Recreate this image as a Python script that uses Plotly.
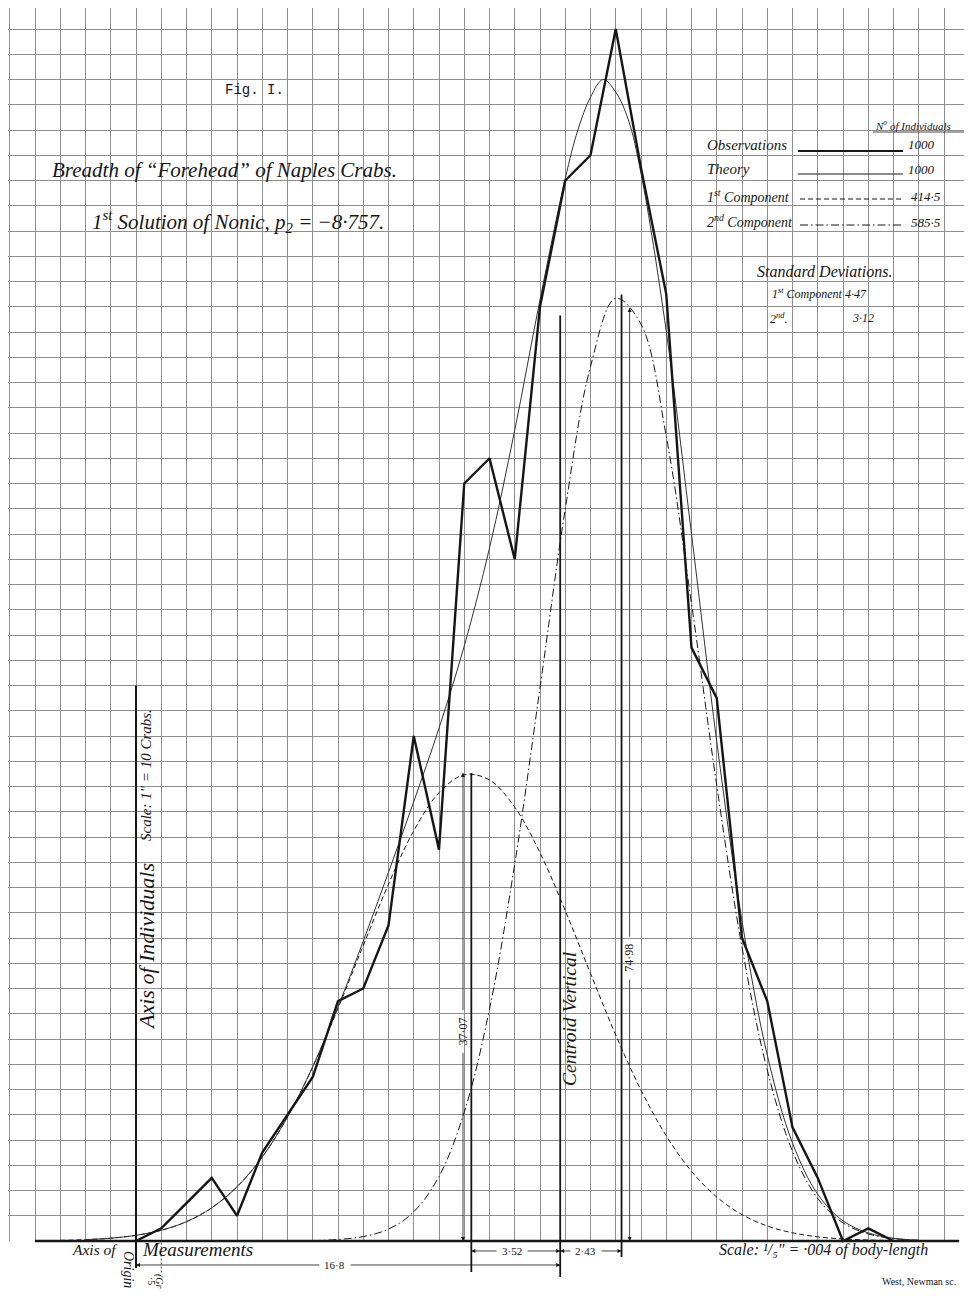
import plotly.graph_objects as go

# ---------------- data (x in units of .004 of body-length from the origin; y in crabs) -------------
obs_units = [0, 1, 2, 3, 4, 5, 6, 7, 8, 9, 10, 11, 12, 13, 14, 15, 16, 17, 18, 19, 20,
             21, 22, 23, 24, 25, 26, 27, 28, 29, 30]
obs_counts = [0, 1, 3, 5, 2, 7, 10, 13, 19, 20, 25, 40, 31, 60, 62, 54, 74, 84, 86, 96, 85,
              75, 47, 43, 24, 19, 9, 5, 0, 1, 0]

theory_units = [-2, -1, 0, 1, 2, 3, 4, 5, 6, 7, 8, 9, 10, 11, 12, 13, 14, 15, 16, 17, 17.5,
                18, 18.5, 19, 19.5, 20, 21, 22, 23, 24, 25, 26, 27, 28, 29, 30, 31]
theory_counts = [0.11, 0.22, 0.45, 0.85, 1.53, 2.63, 4.29, 6.65, 9.82, 13.82, 18.54, 23.75,
                 29.21, 34.80, 40.62, 47.13, 54.89, 64.23, 74.56, 84.16, 88.0, 90.6, 92.0,
                 91.0, 88.8, 84.57, 72.07, 56.00, 39.56, 25.36, 14.73, 7.76, 3.70, 1.60,
                 0.64, 0.22, 0.06]

comp1_units = [-3, -2, -1, 0, 1, 2, 3, 4, 5, 6, 7, 8, 9, 10, 11, 12, 13, 14, 15, 16, 17,
               18, 19, 20, 21, 22, 23, 24, 25, 26, 27, 28, 29, 30]
comp1_counts = [0.05, 0.11, 0.22, 0.45, 0.85, 1.53, 2.63, 4.29, 6.65, 9.82, 13.79, 18.42,
                23.40, 28.27, 32.49, 35.51, 36.93, 36.52, 34.36, 30.75, 26.17, 21.19, 16.32,
                11.95, 8.33, 5.52, 3.48, 2.09, 1.19, 0.65, 0.33, 0.16, 0.08, 0.03]

comp2_units = [7, 8, 9, 10, 11, 12, 13, 14, 15, 16, 17, 18, 19, 20, 21, 22, 23, 24, 25, 26,
               27, 28, 29, 30, 31]
comp2_counts = [0.03, 0.12, 0.35, 0.94, 2.31, 5.11, 10.20, 18.37, 29.87, 43.81, 57.99, 69.27,
                74.67, 72.62, 63.74, 50.48, 36.08, 23.27, 13.54, 7.11, 3.37, 1.44, 0.56,
                0.19, 0.06]

# key distances
centroid = 16.8
comp1_mean, comp1_peak = 13.28, 37.07
comp2_mean, comp2_peak = 19.23, 74.98

# ---------------- geometry (reference pixels) ----------------
OFF = 8                              # page body margin
W, H = 972 - OFF, 1296 - OFF         # figure size
X0_PX, UNIT_PX = 136.0, 25.25        # origin pixel, pixels per unit
BASE_PX, CRAB_PX = 1241.0, 12.625    # baseline pixel, pixels per crab
x_range = [(OFF - X0_PX) / UNIT_PX, (972 - X0_PX) / UNIT_PX]
y_range = [-(1296 - BASE_PX) / CRAB_PX, (BASE_PX - OFF) / CRAB_PX]

INK = "#161616"
GRID = "#8e8e8e"
SERIF = "Liberation Serif"


def px(x, y):
    return (x - OFF) / W, 1 - (y - OFF) / H


fig = go.Figure()

fig.add_trace(go.Scatter(x=comp1_units, y=comp1_counts, mode="lines", line_shape="spline",
                         line=dict(color=INK, width=1, dash="5px,3px"), hoverinfo="skip",
                         name="1st Component"))
fig.add_trace(go.Scatter(x=comp2_units, y=comp2_counts, mode="lines", line_shape="spline",
                         line=dict(color=INK, width=1, dash="8px,3px,1.5px,3px"),
                         hoverinfo="skip", name="2nd Component"))
fig.add_trace(go.Scatter(x=theory_units, y=theory_counts, mode="lines", line_shape="spline",
                         line=dict(color="#333333", width=1), hoverinfo="skip", name="Theory"))
fig.add_trace(go.Scatter(x=obs_units, y=obs_counts, mode="lines",
                         line=dict(color=INK, width=2.4), hoverinfo="skip",
                         name="Observations"))

shapes = []
# hide the ruling below the axis of measurements
shapes.append(dict(type="rect", xref="x", yref="y", x0=x_range[0] - 1, x1=x_range[1] + 1,
                   y0=y_range[0] - 1, y1=0, fillcolor="white", line_width=0, layer="between"))
# axis of measurements
shapes.append(dict(type="line", xref="x", yref="y", x0=-4, x1=32.6, y0=0, y1=0,
                   line=dict(color=INK, width=2.6)))
# axis of individuals
shapes.append(dict(type="line", xref="x", yref="y", x0=0, x1=0, y0=-2.14, y1=44,
                   line=dict(color=INK, width=2)))
# ordinates and centroid vertical
shapes.append(dict(type="line", xref="x", yref="y", x0=comp1_mean, x1=comp1_mean, y0=-2.46,
                   y1=comp1_peak, line=dict(color=INK, width=1.8)))
shapes.append(dict(type="line", xref="x", yref="y", x0=centroid, x1=centroid, y0=-2.85,
                   y1=73.3, line=dict(color=INK, width=1.8)))
shapes.append(dict(type="line", xref="x", yref="y", x0=comp2_mean, x1=comp2_mean, y0=-1.27,
                   y1=comp2_peak, line=dict(color=INK, width=1.8)))
# dotted mark at the first group
shapes.append(dict(type="line", xref="x", yref="y", x0=1, x1=1, y0=-2.5, y1=0,
                   line=dict(color=INK, width=0.8, dash="2px,2px")))


# legend sample lines
def seg(x0, x1, y, width, dash=None):
    a = px(x0, y)
    b = px(x1, y)
    ln = dict(color=INK, width=width)
    if dash:
        ln["dash"] = dash
    shapes.append(dict(type="line", xref="paper", yref="paper", x0=a[0], x1=b[0], y0=a[1],
                       y1=b[1], line=ln))


seg(798, 903, 151, 2.0)
seg(798, 903, 174, 1.0)
seg(800, 903, 199, 1.0, "5px,3px")
seg(800, 903, 225, 1.0, "8px,3px,1.5px,3px")
seg(873, 967, 132, 0.8)   # underline of heading

annotations = []


def txt(x, y, text, size, xanchor="left", angle=0, family=SERIF, italic=True, color=INK):
    p = px(x, y)
    annotations.append(dict(xref="paper", yref="paper", x=p[0], y=p[1], text=text,
                            showarrow=False, xanchor=xanchor, yanchor="middle",
                            textangle=angle,
                            font=dict(family=family, size=size, color=color,
                                      style="italic" if italic else "normal")))


txt(255, 90, "Fig. I.", 14, "center", family="Liberation Mono", italic=False)
txt(50, 170, "Breadth of “Forehead” of Naples Crabs.", 21)
txt(90, 221, "1<sup>st</sup> Solution of Nonic, p<sub>2</sub> = −8·757.", 21)

txt(873, 125, "N<sup>o</sup> of Individuals", 11)
txt(705, 145, "Observations", 15)
txt(906, 145, "1000", 13)
txt(705, 169, "Theory", 15)
txt(906, 169, "1000", 13)
txt(705, 196, "1<sup>st</sup> Component", 14)
txt(909, 197, "414·5", 13)
txt(705, 221, "2<sup>nd</sup> Component", 14)
txt(909, 222, "585·5", 13)
txt(824, 271, "Standard Deviations.", 16, "center")
txt(770, 293, "1<sup>st</sup> Component 4·47", 12)
txt(768, 318, "2<sup>nd</sup>.", 12)
txt(850, 318, "3·12", 12)

txt(146, 947, "Axis of Individuals", 22, "center", angle=-90)
txt(146, 775, "Scale: 1\" = 10 Crabs.", 15, "center", angle=-90)
txt(569, 1019, "Centroid Vertical", 19.5, "center", angle=-90)

txt(70, 1249, "Axis of", 15.5)
txt(140, 1249, "Measurements", 19)
txt(129, 1269, "Origin", 14, "center", angle=90)
txt(152, 1281, "·5", 10, "center", angle=90, italic=False)
txt(159, 1281, "(Gr", 10, "center", angle=90)
txt(717, 1250, "Scale: ¹/₅\" = ·004 of body-length", 16)
txt(958, 1281, "West, Newman sc.", 10, "right", italic=False)

# ---------------- dimension lines with arrowheads ----------------
# (end a, end b, label position, label, half-gap around the label, vertical?)
dims = [
    ((0, -1.9), (centroid, -1.9), (7.88, -1.9), "16·8", 0.62, False),
    ((comp1_mean, -0.79), (centroid, -0.79), (14.9, -0.79), "3·52", 0.62, False),
    ((centroid, -0.79), (comp2_mean, -0.79), (17.82, -0.79), "2·43", 0.62, False),
    ((12.95, 0), (12.95, comp1_peak), (12.95, 16.6), "37·07", 1.7, True),
    ((19.55, 0), (19.55, 73.9), (19.55, 22.4), "74·98", 1.7, True),
]
ax_, ay_, asym = [], [], []
for a, b, lab, text, gap, vert in dims:
    if vert:
        shapes.append(dict(type="line", xref="x", yref="y", x0=a[0], x1=a[0], y0=a[1],
                           y1=lab[1] - gap, line=dict(color=INK, width=0.8)))
        shapes.append(dict(type="line", xref="x", yref="y", x0=b[0], x1=b[0],
                           y0=lab[1] + gap, y1=b[1], line=dict(color=INK, width=0.8)))
        ax_ += [a[0], b[0]]
        ay_ += [a[1], b[1]]
        asym += ["arrow-down", "arrow-up"]
        annotations.append(dict(xref="x", yref="y", x=lab[0], y=lab[1], text=text,
                                textangle=-90, showarrow=False,
                                font=dict(family=SERIF, size=12, color=INK)))
    else:
        shapes.append(dict(type="line", xref="x", yref="y", x0=a[0], x1=lab[0] - gap,
                           y0=a[1], y1=a[1], line=dict(color=INK, width=0.8)))
        shapes.append(dict(type="line", xref="x", yref="y", x0=lab[0] + gap, x1=b[0],
                           y0=b[1], y1=b[1], line=dict(color=INK, width=0.8)))
        ax_ += [a[0], b[0]]
        ay_ += [a[1], b[1]]
        asym += ["arrow-left", "arrow-right"]
        annotations.append(dict(xref="x", yref="y", x=lab[0], y=lab[1], text=text,
                                showarrow=False, font=dict(family=SERIF, size=11, color=INK)))

fig.add_trace(go.Scatter(x=ax_, y=ay_, mode="markers", hoverinfo="skip", cliponaxis=False,
                         marker=dict(symbol=asym, size=4, color=INK, line_width=0)))

fig.update_layout(
    width=W, height=H, autosize=False,
    margin=dict(l=0, r=0, t=0, b=0, pad=0),
    paper_bgcolor="white", plot_bgcolor="white",
    showlegend=False,
    xaxis=dict(range=x_range, tick0=0, dtick=1, showgrid=True, gridcolor=GRID, gridwidth=1,
               zeroline=False, showticklabels=False, ticks="", showline=False, fixedrange=True),
    yaxis=dict(range=y_range, tick0=0, dtick=2, showgrid=True, gridcolor=GRID, gridwidth=1,
               zeroline=False, showticklabels=False, ticks="", showline=False, fixedrange=True),
    shapes=shapes,
    annotations=annotations,
)

fig.write_html("out.html")
